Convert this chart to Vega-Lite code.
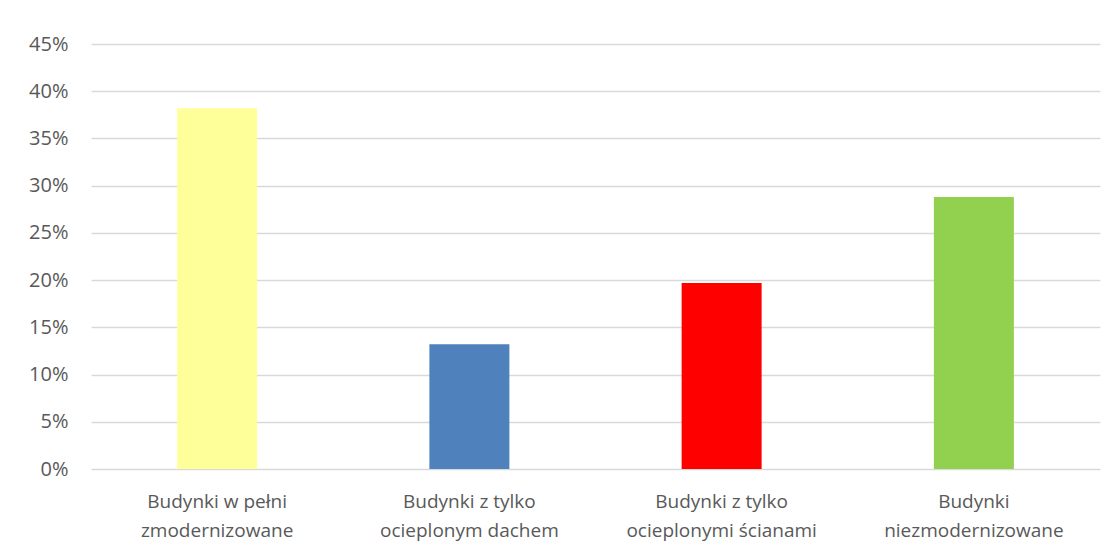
{
  "$schema": "https://vega.github.io/schema/vega-lite/v6.json",
  "autosize": {"type": "none"},
  "padding": {"left": 91, "top": 44, "right": 16, "bottom": 85},
  "width": 1009,
  "height": 425,
  "background": "white",
  "config": {"view": {"stroke": null}, "font": "Open Sans"},
  "data": {"values": [
    {"kategoria": "Budynki w pełni zmodernizowane", "udzial": 0.382, "kolor": "#FFFF99"},
    {"kategoria": "Budynki z tylko ocieplonym dachem", "udzial": 0.132, "kolor": "#4F81BD"},
    {"kategoria": "Budynki z tylko ocieplonymi ścianami", "udzial": 0.197, "kolor": "#FF0000"},
    {"kategoria": "Budynki niezmodernizowane", "udzial": 0.288, "kolor": "#92D050"}
  ]},
  "mark": {"type": "bar", "width": 80},
  "encoding": {
    "x": {
      "field": "kategoria", "type": "nominal", "sort": null,
      "scale": {"paddingInner": 0, "paddingOuter": 0},
      "axis": {
        "title": null, "labelAngle": 0, "domain": false, "ticks": false,
        "labelFont": "Open Sans", "labelFontSize": 19, "labelColor": "#595959",
        "labelPadding": 23, "labelLineHeight": 29, "labelLimit": 0,
        "labelExpr": "datum.value == 'Budynki w pełni zmodernizowane' ? ['Budynki w pełni', 'zmodernizowane'] : datum.value == 'Budynki z tylko ocieplonym dachem' ? ['Budynki z tylko', 'ocieplonym dachem'] : datum.value == 'Budynki z tylko ocieplonymi ścianami' ? ['Budynki z tylko', 'ocieplonymi ścianami'] : ['Budynki', 'niezmodernizowane']"
      }
    },
    "y": {
      "field": "udzial", "type": "quantitative",
      "scale": {"domain": [0, 0.45], "nice": false},
      "axis": {
        "title": null, "format": ".0%", "values": [0, 0.05, 0.1, 0.15, 0.2, 0.25, 0.3, 0.35, 0.4, 0.45],
        "domain": false, "ticks": false, "gridColor": "#D9D9D9", "gridWidth": 1.3,
        "labelFont": "Open Sans", "labelFontSize": 20, "labelColor": "#595959", "labelPadding": 23
      }
    },
    "color": {"field": "kolor", "type": "nominal", "scale": null, "legend": null}
  }
}
